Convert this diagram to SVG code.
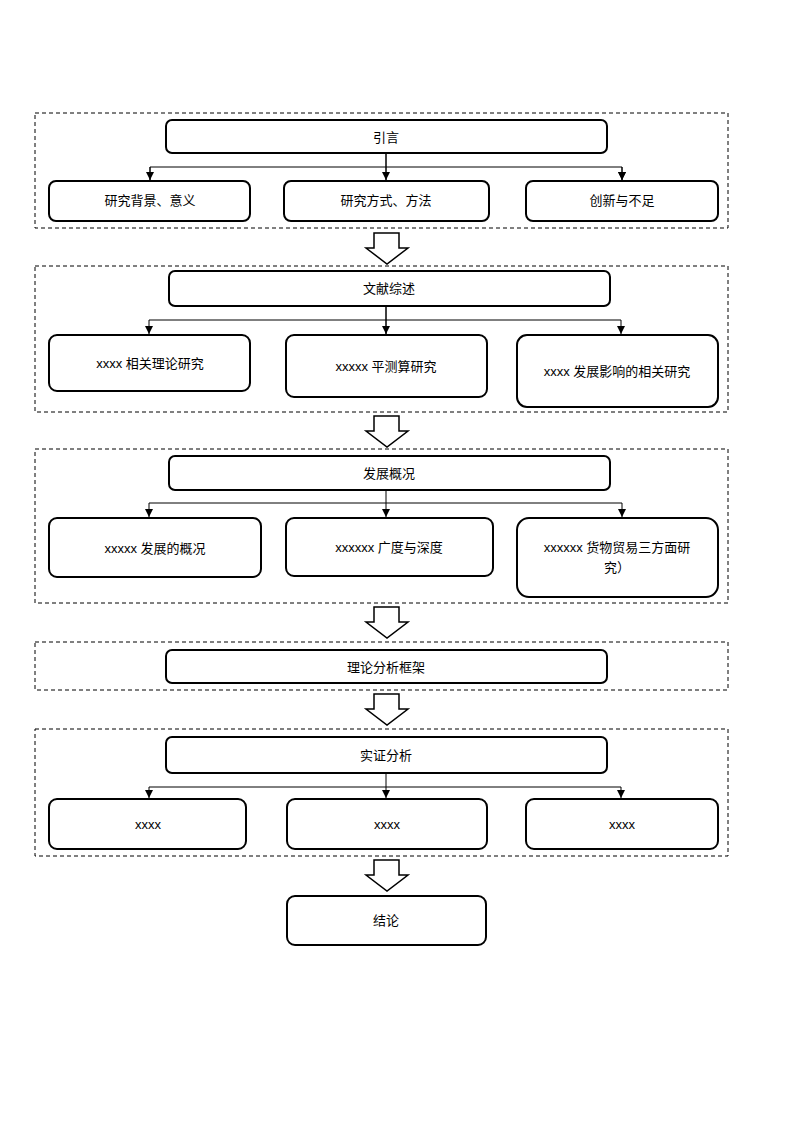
<svg xmlns="http://www.w3.org/2000/svg" width="793" height="1122" viewBox="0 0 793 1122">
<style>
.sec{fill:none;stroke:#000;stroke-width:1;stroke-dasharray:4,3}
.box{fill:#fff;stroke:#000;stroke-width:2}
.c{fill:none;stroke:#000;stroke-width:1}
.big{fill:#fff;stroke:#000;stroke-width:1.5}
text{font-family:"Liberation Sans","Noto Sans CJK SC",sans-serif;font-size:13px;text-anchor:middle;fill:#000}
</style>
<defs><marker id="a" markerWidth="8" markerHeight="8" refX="4" refY="8" orient="auto" markerUnits="userSpaceOnUse"><path d="M0,0 L8,0 L4,8 Z" transform="rotate(-90 4 4)"/></marker>
<marker id="m" markerWidth="8" markerHeight="10" refX="8" refY="4" orient="auto" markerUnits="userSpaceOnUse"><path d="M0,0 L8,4 L0,8 Z"/></marker></defs>
<g id="sections">
<rect class="sec" x="35" y="113" width="693" height="115"/>
<rect class="sec" x="35" y="266" width="693" height="146"/>
<rect class="sec" x="35" y="449" width="693" height="154"/>
<rect class="sec" x="35" y="642" width="693" height="48"/>
<rect class="sec" x="35" y="729" width="693" height="127"/>
</g>
<g id="connectors">
<path class="c" d="M386,153V180M150,167H622M150,167V180M622,167V180" marker-end="url(#m)"/>
<path class="c" d="M150,167V180" marker-end="url(#m)"/><path class="c" d="M622,167V180" marker-end="url(#m)"/><path class="c" d="M386,153V180" marker-end="url(#m)"/>
<path class="c" d="M386,306V334M149,320H621"/>
<path class="c" d="M149,320V334" marker-end="url(#m)"/><path class="c" d="M621,320V334" marker-end="url(#m)"/><path class="c" d="M386,306V334" marker-end="url(#m)"/>
<path class="c" d="M149,503H622"/>
<path class="c" d="M149,503V517" marker-end="url(#m)"/><path class="c" d="M622,503V517" marker-end="url(#m)"/><path class="c" d="M386,490V517" marker-end="url(#m)"/>
<path class="c" d="M149,787H621"/>
<path class="c" d="M149,787V798" marker-end="url(#m)"/><path class="c" d="M621,787V798" marker-end="url(#m)"/><path class="c" d="M386,773V798" marker-end="url(#m)"/>
<path class="big" d="M374,233H399V248H408L387,264L366,248H374Z"/>
<path class="big" d="M374,416H399V431H408L387,447L366,431H374Z"/>
<path class="big" d="M374,607H399V622H408L387,638L366,622H374Z"/>
<path class="big" d="M374,694H399V709H408L387,725L366,709H374Z"/>
<path class="big" d="M374,860H399V875H408L387,891L366,875H374Z"/>
</g>
<g id="n1"><rect class="box" x="166" y="120" width="441" height="33" rx="6"/><text x="386" y="142">引言</text></g>
<g id="n2"><rect class="box" x="49" y="181" width="201" height="40" rx="7"/><text x="150" y="205">研究背景、意义</text></g>
<g id="n3"><rect class="box" x="284" y="181" width="205" height="40" rx="7"/><text x="386" y="205">研究方式、方法</text></g>
<g id="n4"><rect class="box" x="526" y="181" width="192" height="40" rx="7"/><text x="622" y="205">创新与不足</text></g>
<g id="n5"><rect class="box" x="169" y="271" width="441" height="35" rx="6"/><text x="389" y="293">文献综述</text></g>
<g id="n6"><rect class="box" x="49" y="335" width="201" height="56" rx="8"/><text x="150" y="368">xxxx 相关理论研究</text></g>
<g id="n7"><rect class="box" x="286" y="335" width="201" height="62" rx="8"/><text x="386" y="371">xxxxx 平测算研究</text></g>
<g id="n8"><rect class="box" x="517" y="335" width="201" height="72" rx="10"/><text x="617" y="376">xxxx 发展影响的相关研究</text></g>
<g id="n9"><rect class="box" x="169" y="456" width="441" height="34" rx="6"/><text x="389" y="478">发展概况</text></g>
<g id="n10"><rect class="box" x="49" y="518" width="212" height="59" rx="8"/><text x="155" y="553">xxxxx 发展的概况</text></g>
<g id="n11"><rect class="box" x="286" y="518" width="207" height="58" rx="8"/><text x="389" y="552">xxxxxx 广度与深度</text></g>
<g id="n12"><rect class="box" x="517" y="518" width="201" height="79" rx="12"/><text x="617" y="552">xxxxxx 货物贸易三方面研</text><text x="617" y="572">究）</text></g>
<g id="n13"><rect class="box" x="166" y="650" width="441" height="33" rx="6"/><text x="386" y="672">理论分析框架</text></g>
<g id="n14"><rect class="box" x="166" y="737" width="441" height="36" rx="6"/><text x="386" y="760">实证分析</text></g>
<g id="n15"><rect class="box" x="49" y="799" width="197" height="50" rx="8"/><text x="148" y="829">xxxx</text></g>
<g id="n16"><rect class="box" x="287" y="799" width="200" height="50" rx="8"/><text x="387" y="829">xxxx</text></g>
<g id="n17"><rect class="box" x="526" y="799" width="192" height="50" rx="8"/><text x="622" y="829">xxxx</text></g>
<g id="n18"><rect class="box" x="287" y="896" width="199" height="49" rx="8"/><text x="386" y="925">结论</text></g>
</svg>
